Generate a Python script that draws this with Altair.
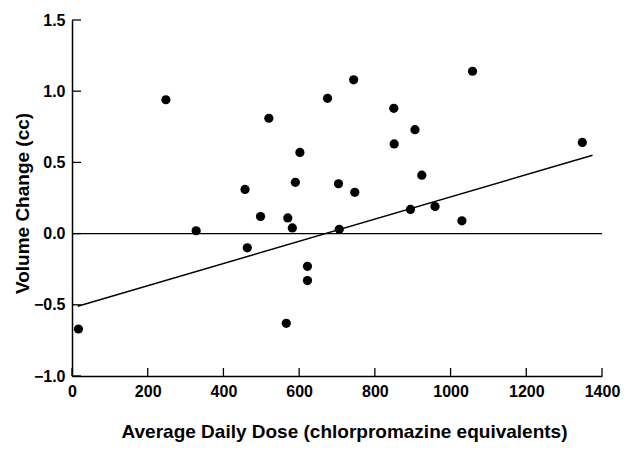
import altair as alt
import pandas as pd

# Scatter data (dose, volume change)
dose = [17, 248, 328, 457, 463, 498, 520, 566, 570, 582, 590, 602, 622, 622,
        675, 706, 704, 747, 744, 851, 850, 894, 906, 924, 959, 1030, 1058, 1348]
vol = [-0.67, 0.94, 0.02, 0.31, -0.10, 0.12, 0.81, -0.63, 0.11, 0.04, 0.36, 0.57,
       -0.23, -0.33, 0.95, 0.03, 0.35, 0.29, 1.08, 0.63, 0.88, 0.17, 0.73, 0.41,
       0.19, 0.09, 1.14, 0.64]

# Reference (zero) line and regression line
zero_x = [0, 1400]
zero_y = [0.0, 0.0]
fit_x = [15, 1375]
fit_y = [-0.51, 0.55]

x_ticks = [0, 200, 400, 600, 800, 1000, 1200, 1400]
y_ticks = [-1.0, -0.5, 0.0, 0.5, 1.0, 1.5]

W, H = 530, 356
FONT = "Liberation Sans"

pts = pd.DataFrame({"dose": dose, "vol": vol})
lines = pd.DataFrame({
    "dose": zero_x + fit_x,
    "vol": zero_y + fit_y,
    "line": ["zero", "zero", "fit", "fit"],
})
xt = pd.DataFrame({"dose": x_ticks})
yt = pd.DataFrame({"vol": y_ticks})

xscale = alt.Scale(domain=[0, 1400], nice=False, zero=False)
yscale = alt.Scale(domain=[-1.0, 1.5], nice=False, zero=False)

xaxis = alt.Axis(values=x_ticks, format="d", ticks=False, grid=False, domain=True,
                 domainColor="black", domainWidth=1.5, labelFont=FONT,
                 labelFontSize=16, labelFontWeight="bold", labelColor="black",
                 labelPadding=7, labelFlush=False,
                 title="Average Daily Dose (chlorpromazine equivalents)",
                 titleFont=FONT, titleFontSize=19, titleFontWeight="bold",
                 titleColor="black", titleX=272, titleY=55,
                 titleBaseline="middle", titleAlign="center")
yaxis = alt.Axis(values=y_ticks, format=".1f", ticks=False, grid=False,
                 domain=True, domainColor="black", domainWidth=1.5,
                 labelFont=FONT, labelFontSize=16, labelFontWeight="bold",
                 labelColor="black", labelPadding=7, labelFlush=False,
                 title="Volume Change (cc)", titleFont=FONT, titleFontSize=19,
                 titleFontWeight="bold", titleColor="black", titleX=-50,
                 titleY=183, titleAngle=-90, titleBaseline="middle",
                 titleAlign="center")

X = alt.X("dose:Q", scale=xscale, axis=xaxis)
Y = alt.Y("vol:Q", scale=yscale, axis=yaxis)

line_layer = alt.Chart(lines).mark_line(color="black", strokeWidth=1.4).encode(
    x=X, y=Y, detail="line:N",
)

ytick_layer = alt.Chart(yt).mark_rule(color="black", strokeWidth=1.3).encode(
    y=Y, x=alt.value(0), x2=alt.value(9),
)

xtick_layer = alt.Chart(xt).mark_rule(color="black", strokeWidth=1.3).encode(
    x=X, y=alt.value(H), y2=alt.value(H - 8),
)

points = alt.Chart(pts).mark_circle(color="black", opacity=1, size=85).encode(
    x=X, y=Y,
)

chart = alt.layer(line_layer, ytick_layer, xtick_layer, points).properties(
    width=W, height=H,
    autosize=alt.AutoSizeParams(type="none"),
    padding={"left": 64, "top": 12, "right": 22, "bottom": 67},
    background="white",
).configure_view(stroke=None)

chart.save("out.html", embed_options={"renderer": "svg", "actions": False})
